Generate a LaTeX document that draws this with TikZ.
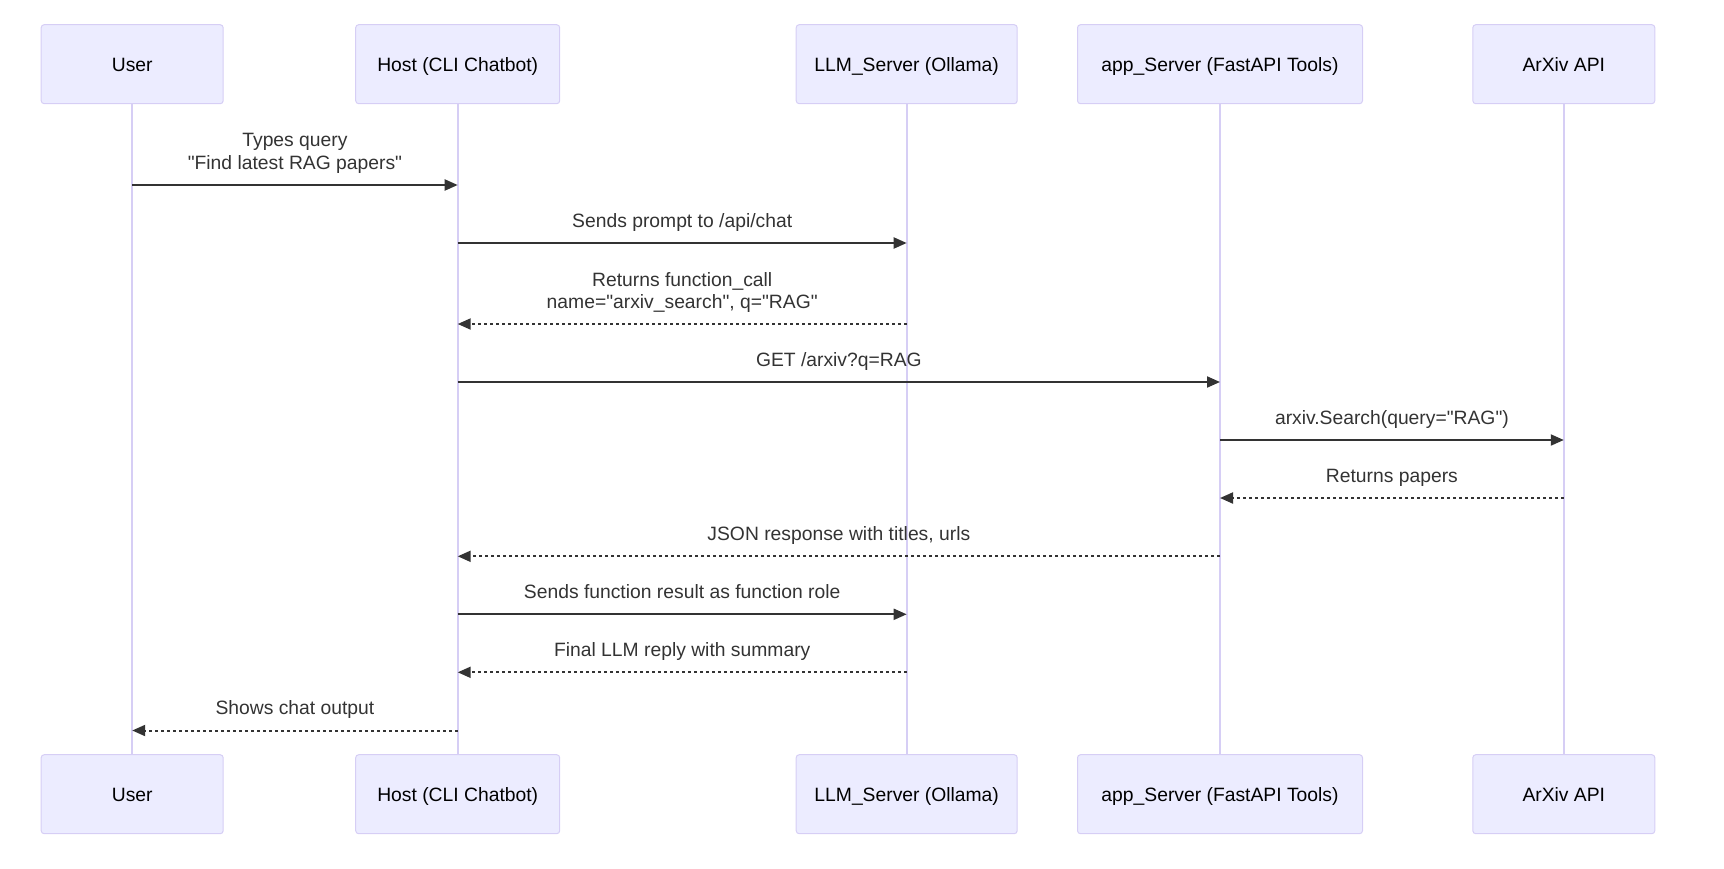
\documentclass[tikz,border=0pt]{standalone}
\usepackage{fontspec}
\setmainfont{Liberation Sans}
\usetikzlibrary{arrows.meta}
\definecolor{actorfill}{RGB}{236,236,255}
\definecolor{actorline}{RGB}{214,206,245}
\definecolor{msgdark}{RGB}{51,51,51}
\newcommand{\qd}{\textquotedbl}
\tikzset{
  actor/.style={draw=actorline, fill=actorfill, rounded corners=3pt, line width=1pt, minimum height=79pt, inner sep=0pt, text height=13.8pt, text depth=0pt, text=black},
  life/.style={draw=actorline, line width=2pt},
  msg/.style={draw=msgdark, line width=2pt, -{Triangle[length=13pt,width=11pt]}},
  reply/.style={msg, dash pattern=on 3pt off 3pt},
  lbl/.style={text=msgdark, align=center, inner sep=0pt, anchor=base}
}

\begin{document}
\begin{tikzpicture}[x=1pt, y=-1pt, font=\fontsize{19.3}{22.3}\selectfont]
    \useasboundingbox (0,0) rectangle (1724,868);
    \node[actor, minimum width=182pt] (userT) at (132.2,64.2) {User};
    \node[actor, minimum width=204pt] (hostT) at (457.7,64.2) {Host (CLI Chatbot)};
    \node[actor, minimum width=221pt] (llmT) at (906.7,64.2) {LLM\_Server (Ollama)};
    \node[actor, minimum width=285pt] (appT) at (1220,64.2) {app\_Server (FastAPI Tools)};
    \node[actor, minimum width=182pt] (arxivT) at (1563.8,64.2) {ArXiv API};
    \node[actor, minimum width=182pt] (userB) at (132.2,794.2) {User};
    \node[actor, minimum width=204pt] (hostB) at (457.7,794.2) {Host (CLI Chatbot)};
    \node[actor, minimum width=221pt] (llmB) at (906.7,794.2) {LLM\_Server (Ollama)};
    \node[actor, minimum width=285pt] (appB) at (1220,794.2) {app\_Server (FastAPI Tools)};
    \node[actor, minimum width=182pt] (arxivB) at (1563.8,794.2) {ArXiv API};

    \draw[life] (userT) -- (userB);
    \draw[life] (hostT) -- (hostB);
    \draw[life] (llmT) -- (llmB);
    \draw[life] (appT) -- (appB);
    \draw[life] (arxivT) -- (arxivB);

    \coordinate (m1) at (0,185);
    \coordinate (m2) at (0,243);
    \coordinate (m3) at (0,324);
    \coordinate (m4) at (0,382);
    \coordinate (m5) at (0,440);
    \coordinate (m6) at (0,498);
    \coordinate (m7) at (0,556.3);
    \coordinate (m8) at (0,614.3);
    \coordinate (m9) at (0,672.3);
    \coordinate (m10) at (0,730.5);

    \draw[msg] (userT |- m1) -- (hostT |- m1) node[lbl, midway, yshift=16pt] {Types query\\\qd Find latest RAG papers\qd};
    \draw[msg] (hostT |- m2) -- (llmT |- m2) node[lbl, midway, yshift=15.6pt] {Sends prompt to /api/chat};
    \draw[reply] (llmT |- m3) -- (hostT |- m3) node[lbl, midway, yshift=15.6pt] {Returns function\_call\\name=\qd arxiv\_search\qd, q=\qd RAG\qd};
    \draw[msg] (hostT |- m4) -- (appT |- m4) node[lbl, midway, yshift=15.6pt] {GET /arxiv?q=RAG};
    \draw[msg] (appT |- m5) -- (arxivT |- m5) node[lbl, midway, yshift=15.6pt] {arxiv.Search(query=\qd RAG\qd)};
    \draw[reply] (arxivT |- m6) -- (appT |- m6) node[lbl, midway, yshift=15.6pt] {Returns papers};
    \draw[reply] (appT |- m7) -- (hostT |- m7) node[lbl, midway, yshift=15.6pt] {JSON response with titles, urls};
    \draw[msg] (hostT |- m8) -- (llmT |- m8) node[lbl, midway, yshift=15.6pt] {Sends function result as function role};
    \draw[reply] (llmT |- m9) -- (hostT |- m9) node[lbl, midway, yshift=15.6pt] {Final LLM reply with summary};
    \draw[reply] (hostT |- m10) -- (userT |- m10) node[lbl, midway, yshift=15.6pt] {Shows chat output};
\end{tikzpicture}
\end{document}
